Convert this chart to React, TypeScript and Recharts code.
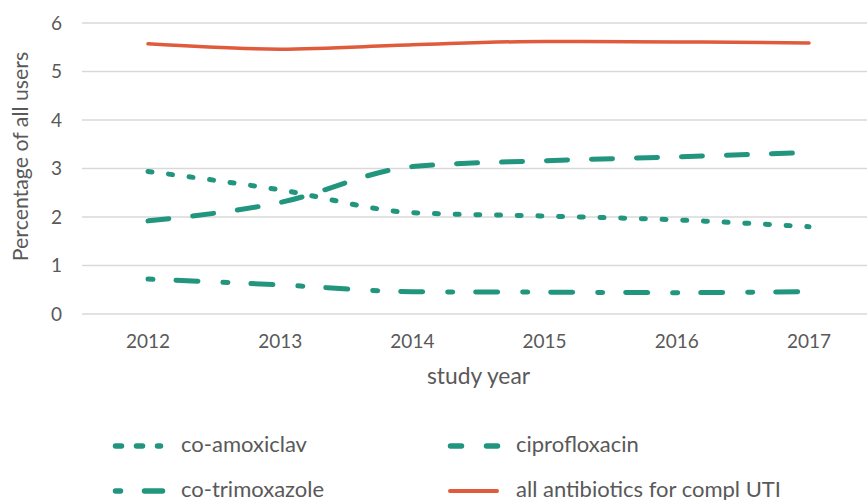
import React from 'react';
import { LineChart, Line, XAxis, YAxis, CartesianGrid, Legend, Label } from 'recharts';

const years = ['2012', '2013', '2014', '2015', '2016', '2017'];
const coAmoxiclav = [2.94, 2.56, 2.09, 2.02, 1.94, 1.8];
const ciprofloxacin = [1.92, 2.3, 3.04, 3.16, 3.24, 3.33];
const coTrimoxazole = [0.72, 0.6, 0.46, 0.45, 0.44, 0.46];
const allAntibiotics = [5.57, 5.46, 5.55, 5.62, 5.61, 5.59];
const yTicks = [0, 1, 2, 3, 4, 5, 6];
const seriesNames = ['co-amoxiclav', 'ciprofloxacin', 'co-trimoxazole', 'all antibiotics for compl UTI'];
const seriesValues = [coAmoxiclav, ciprofloxacin, coTrimoxazole, allAntibiotics];

const TEAL = '#21957D';
const RED = '#E05B3B';
const TEXT = '#595959';
const FONT = 'Lato, "Open Sans", sans-serif';

const seriesStyles = [
  { color: TEAL, width: 5, dash: '4 16.7', legendDash: '6 15', legendX1: 2.5, legendX2: 47.5 },
  { color: TEAL, width: 5, dash: '21 24', legendDash: '11 25', legendX1: 2.5, legendX2: 49.5 },
  { color: TEAL, width: 5, dash: '5 23 22 25', legendDash: '5 24 20 100', legendX1: 2.5, legendX2: 49.5 },
  { color: RED, width: 3.5, dash: undefined, legendDash: undefined, legendX1: 2, legendX2: 49 },
];

const data = years.map((y, i) => {
  const row: Record<string, any> = { year: y };
  seriesNames.forEach((n, k) => {
    row[n] = seriesValues[k][i];
  });
  return row;
});

const renderLegend = (props: any) => {
  const payload = props.payload || [];
  return (
    <svg width={720} height={80} style={{ overflow: 'visible', display: 'block' }}>
      {payload.map((p: any) => {
        const idx = seriesNames.indexOf(p.value);
        if (idx < 0) return null;
        const st = seriesStyles[idx];
        const col = idx % 2;
        const row = Math.floor(idx / 2);
        const x0 = col === 0 ? 13 : 348;
        const cy = row === 0 ? 26 : 71;
        return (
          <g key={p.value}>
            <line
              x1={x0 + st.legendX1}
              x2={x0 + st.legendX2}
              y1={cy}
              y2={cy}
              stroke={st.color}
              strokeWidth={st.width + 0.5}
              strokeDasharray={st.legendDash}
              strokeLinecap="round"
            />
            <text x={x0 + 68} y={cy + 5.5} fill={TEXT} fontSize={22} fontFamily={FONT}>
              {p.value}
            </text>
          </g>
        );
      })}
    </svg>
  );
};

const YTitle = (props: any) => {
  const vb = props.viewBox || { x: 0, y: 0, width: 0, height: 0 };
  const cx = 28;
  const cy = vb.y + vb.height / 2 - 12;
  return (
    <text
      x={cx}
      y={cy}
      transform={`rotate(-90 ${cx} ${cy})`}
      textAnchor="middle"
      fill={TEXT}
      fontSize={21.3}
      fontFamily={FONT}
    >
      Percentage of all users
    </text>
  );
};

export default function App() {
  return (
    <div style={{ position: 'fixed', left: 0, top: 0, width: 867, height: 500, overflow: 'hidden', background: '#fff' }}>
      <LineChart
        width={880}
        height={500}
        data={data}
        margin={{ top: 23, right: 5, bottom: 156, left: 0 }}
      >
        <CartesianGrid vertical={false} stroke="#D9D9D9" strokeWidth={1.5} />
        <XAxis
          dataKey="year"
          height={30}
          axisLine={false}
          tickLine={false}
          tickSize={0}
          tickMargin={21}
          padding={{ left: 66, right: 66 }}
          tick={{ fill: TEXT, fontSize: 19, fontFamily: FONT }}
          interval={0}
        >
          <Label
            value="study year"
            position="bottom"
            offset={0}
            content={(lp: any) => {
              const vb = lp.viewBox || { x: 0, y: 0, width: 0 };
              return (
                <text
                  x={vb.x + vb.width / 2}
                  y={384}
                  textAnchor="middle"
                  fill={TEXT}
                  fontSize={22.8}
                  fontFamily={FONT}
                >
                  study year
                </text>
              );
            }}
          />
        </XAxis>
        <YAxis
          width={82}
          domain={[0, 6]}
          ticks={yTicks}
          axisLine={false}
          tickLine={false}
          tickSize={0}
          tickMargin={20}
          tick={{ fill: TEXT, fontSize: 19, fontFamily: FONT }}
        >
          <Label content={YTitle} />
        </YAxis>
        <Legend
          layout="horizontal"
          verticalAlign="middle"
          align="center"
          wrapperStyle={{ left: 100, top: 420, width: 720, height: 80 }}
          content={renderLegend}
        />
        {seriesNames.map((n, k) => (
          <Line
            key={n}
            dataKey={n}
            name={n}
            type="monotone"
            stroke={seriesStyles[k].color}
            strokeWidth={seriesStyles[k].width}
            strokeDasharray={seriesStyles[k].dash}
            strokeLinecap="round"
            dot={false}
            activeDot={false}
            isAnimationActive={false}
          />
        ))}
      </LineChart>
    </div>
  );
}
